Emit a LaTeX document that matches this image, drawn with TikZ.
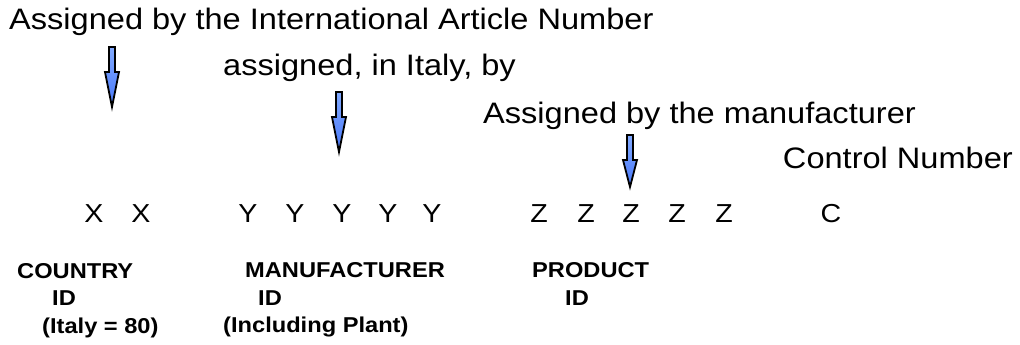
\documentclass[tikz,border=0pt]{standalone}
\usepackage{fontspec}
\setmainfont{Liberation Sans}[FakeStretch=1.1]
\definecolor{arrowblue}{RGB}{72,120,250}
\definecolor{arrowlight}{RGB}{130,170,255}
\tikzset{
  note/.style={font=\fontsize{29.6}{34}\selectfont, anchor=base west, inner sep=0pt},
  digit/.style={font=\fontsize{26}{30}\selectfont, anchor=base, inner sep=0pt},
  field/.style={font=\bfseries\fontsize{21.5}{25}\selectfont, anchor=base west, inner sep=0pt},
  arrowbody/.style={draw=black, line width=1.8pt, line join=miter, top color=arrowlight, bottom color=arrowblue}
}
% block arrow pointing down: x, top of shaft, start of head, tip
\newcommand\downblock[4]{%
  \path[arrowbody] ({#1-3},#2) -- ({#1+3},#2) -- ({#1+3},#3) -- ({#1+7},#3)
    -- (#1,#4) -- ({#1-7},#3) -- ({#1-3},#3) -- cycle;}
\begin{document}
\begin{tikzpicture}[x=1pt,y=-1pt]
\useasboundingbox (0,0) rectangle (1020,345);

% who assigns each part of the code
\node[note] (ean)  at (9,30)    {Assigned by the International Article Number};
\node[note] (ita)  at (223,75)  {assigned, in Italy, by};
\node[note] (man)  at (483,123) {Assigned by the manufacturer};
\node[note, anchor=base east] (ctrl) at (1013,168) {Control Number};

\downblock{112}{47}{72}{107}
\downblock{339}{92}{117}{152}
\downblock{630}{135}{160}{187}

% code digits
\node[digit] (x1) at (94,222)  {X};
\node[digit] (x2) at (141,222) {X};
\node[digit] (y1) at (248,222) {Y};
\node[digit] (y2) at (295,222) {Y};
\node[digit] (y3) at (342,222) {Y};
\node[digit] (y4) at (388,222) {Y};
\node[digit] (y5) at (432,222) {Y};
\node[digit] (z1) at (539,222) {Z};
\node[digit] (z2) at (586,222) {Z};
\node[digit] (z3) at (631,222) {Z};
\node[digit] (z4) at (677,222) {Z};
\node[digit] (z5) at (724,222) {Z};
\node[digit] (c)  at (831,222) {C};

% field names
\node[field] (cty)   at (17,278)  {COUNTRY};
\node[field] (ctyid) at (52,305)  {ID};
\node[field] (ctyex) at (42,333)  {(Italy = 80)};
\node[field] (mfr)   at (245,277) {MANUFACTURER};
\node[field] (mfrid) at (258,305) {ID};
\node[field] (mfrex) at (223,332) {(Including Plant)};
\node[field] (prd)   at (532,277) {PRODUCT};
\node[field] (prdid) at (565,305) {ID};
\end{tikzpicture}
\end{document}
